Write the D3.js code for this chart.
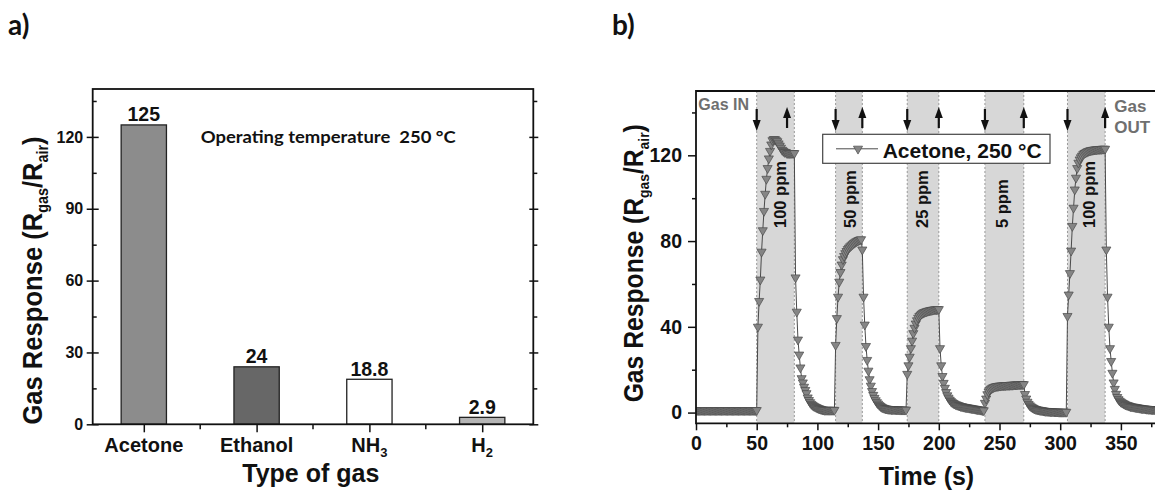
<!DOCTYPE html>
<html><head><meta charset="utf-8">
<script src="https://cdn.jsdelivr.net/npm/d3@7"></script>
<style>
html,body{margin:0;padding:0;background:#fff;}
svg{display:block;}
text{font-family:"Liberation Sans",Arial,Helvetica,sans-serif;font-weight:bold;fill:#111;}
</style></head><body>
<svg id="chart" width="1155" height="493"></svg>
<script>
// ---------------- DATA ----------------
// panel a
const gasCategories = ["Acetone", "Ethanol", "NH3", "H2"];
const gasLabelMain = ["Acetone", "Ethanol", "NH", "H"];
const gasLabelSub = ["", "", "3", "2"];
const gasResponse = [125, 24, 18.8, 2.9];
const gasResponseText = ["125", "24", "18.8", "2.9"];
const barYTicks = [0, 30, 60, 90, 120];
const barYMinorTicks = [15, 45, 75, 105, 135];

// panel b
const timeYTicks = [0, 40, 80, 120];
const timeYMinorTicks = [20, 60, 100, 140];
const timeXTicks = [0, 50, 100, 150, 200, 250, 300, 350];
const timeXMinorTicks = [25, 75, 125, 175, 225, 275, 325, 375];
const exposureStart = [50, 115, 174, 238, 306];
const exposureEnd = [81, 137, 200, 270, 337];
const gasOutArrowTimes = [75, 137, 200, 270, 337];
const concentrationLabels = ["100 ppm", "50 ppm", "25 ppm", "5 ppm", "100 ppm"];
const concentrationLabelTimes = [68.8, 126.9, 186.2, 251.8, 323.6];
// acetone response (Rgas/Rair), one value per second starting at t = 0 s
const acetoneResponse = [
  1.1,1.1,1.1,1.1,1.1,1.1,1.1,1.1,1.1,1.1,
  1.1,1.1,1.1,1.1,1.1,1.1,1.1,1.1,1.1,1.1,
  1.1,1.1,1.1,1.1,1.1,1.1,1.1,1.1,1.1,1.1,
  1.1,1.1,1.1,1.1,1.1,1.1,1.1,1.1,1.1,1.1,
  1.1,1.1,1.1,1.1,1.1,1.1,1.1,1.1,1.1,1.1,
  1.1,40,52,62,75,85,94,102,109,114,
  118.5,122,125,127,127.5,127.5,127,126.5,125.5,124.5,
  123.5,122.5,122,121.5,121.5,121,121,121,121,121,
  121,121,63,47,34,27,21,16,14,12,
  10.5,9,7,5.8,4.8,4,3.5,3.1,2.8,2.5,
  2.2,2.0,1.8,1.6,1.4,1.3,1.2,1.2,1.2,1.2,
  1.2,1.2,1.2,1.2,1.2,31.5,44,54,61,65.5,
  69,71.5,73,74.3,75.3,76.2,76.9,77.5,78,78.5,
  79,79.4,79.8,80.1,80.4,80.6,80.8,76,54,41,
  31,24.5,19.5,15.5,12.5,10,8.2,6.8,5.7,4.8,
  4.1,3.5,3.0,2.6,2.3,2.1,1.9,1.8,1.7,1.6,
  1.6,1.5,1.5,1.5,1.4,1.4,1.4,1.4,1.3,1.3,
  1.3,1.3,1.3,1.3,18,22,26,30,33.5,37,
  39.5,41.5,43,44.2,45,45.6,46.1,46.5,46.8,47,
  47.2,47.4,47.5,47.7,47.8,47.9,48,48.1,48.1,48.2,
  48.2,30,22,17,13.8,11.5,9.5,8,6.9,6,
  5.3,4.8,4.4,4.1,3.8,3.6,3.4,3.2,3.0,2.9,
  2.7,2.6,2.5,2.4,2.3,2.2,2.1,2.0,1.9,1.8,
  1.7,1.6,1.5,1.4,1.3,1.2,1.1,1.0,4.5,6.5,
  8.5,9.8,10.6,11.1,11.5,11.8,12,12.2,12.3,12.4,
  12.5,12.5,12.6,12.6,12.7,12.7,12.8,12.8,12.8,12.9,
  12.9,12.9,13,13,13,13.1,13.1,13.1,13.2,13.2,
  13.2,8.6,6.5,5,4,3.3,2.8,2.4,2.1,1.8,
  1.6,1.4,1.3,1.2,1.1,1.0,0.9,0.8,0.7,0.7,
  0.6,0.6,0.5,0.5,0.5,0.4,0.4,0.4,0.4,0.3,
  0.3,0.3,0.3,0.3,0.3,0.3,45,55,65,75.5,
  87,95.5,104,109.5,114,116.5,118,119,119.8,120.5,
  121,121.3,121.6,121.9,122.1,122.3,122.4,122.5,122.6,122.7,
  122.7,122.8,122.8,122.9,122.9,123,123,123,76,54,
  40,30,24,18.5,14,11,8.7,7.2,6.2,5.5,
  5,4.6,4.3,4,3.7,3.5,3.3,3.1,2.9,2.8,
  2.7,2.6,2.5,2.4,2.3,2.2,2.1,2,1.9,1.9,
  1.8,1.7,1.7,1.6,1.6,1.5,1.5,1.5,1.4,1.4,
  1.4,1.4,1.3,1.3,1.3,1.3
];
const responseSeries = acetoneResponse.map((v, i) => ({t: i, v: v}));

// ---------------- DRAW ----------------
const svg = d3.select("#chart");
const FONT = '"Liberation Sans",Arial,Helvetica,sans-serif';

function styleAxis(g, fs) {
  g.attr("font-size", null).attr("font-family", null);
  g.select(".domain").remove();
  g.selectAll(".tick line").attr("stroke", "#111").attr("stroke-width", 1.5);
  g.selectAll(".tick text").attr("font-size", fs).attr("fill", "#111")
    .style("font-family", FONT).style("font-weight", "bold");
}

// ===== panel a =====
const A = {L: 92.7, R: 533.3, T: 89, B: 424.3};
const xA = d3.scalePoint().domain(gasCategories).range([A.L, A.R]).padding(0.453);
const yA = d3.scaleLinear().domain([0, 140]).range([A.B, A.T]);
const barW = 45.3;
const barFill = ["#8c8c8c", "#676767", "#ffffff", "#b5b5b5"];
const gA = svg.append("g");

svg.append("text").attr("x", 8).attr("y", 35).attr("font-size", 28)
  .style("font-family", "Lato,'Open Sans',sans-serif").text("a)");

gA.selectAll("rect.bar").data(gasResponse).join("rect").attr("class", "bar")
  .attr("x", (d, i) => xA(gasCategories[i]) - barW / 2)
  .attr("y", d => yA(d))
  .attr("width", barW)
  .attr("height", d => yA(0) - yA(d))
  .attr("fill", (d, i) => barFill[i])
  .attr("stroke", "#222").attr("stroke-width", 1.3);

gA.selectAll("text.val").data(gasResponse).join("text").attr("class", "val")
  .attr("x", (d, i) => xA(gasCategories[i]))
  .attr("y", d => yA(d) - 3.5)
  .attr("text-anchor", "middle").attr("font-size", 19.5)
  .text((d, i) => gasResponseText[i]);

// frame
gA.append("rect").attr("x", A.L).attr("y", A.T).attr("width", A.R - A.L).attr("height", A.B - A.T)
  .attr("fill", "none").attr("stroke", "#111").attr("stroke-width", 1.8);

// y axis left
gA.append("g").attr("transform", `translate(${A.L},0)`)
  .call(d3.axisLeft(yA).tickValues(barYTicks).tickSize(6).tickPadding(3.5))
  .call(g => styleAxis(g, 16));
gA.append("g").attr("transform", `translate(${A.L},0)`)
  .call(d3.axisRight(yA).tickValues(barYTicks).tickSize(6).tickFormat(""))
  .call(g => styleAxis(g, 16));
gA.append("g").attr("transform", `translate(${A.L},0)`)
  .call(d3.axisRight(yA).tickValues(barYMinorTicks).tickSize(4).tickFormat(""))
  .call(g => styleAxis(g, 16));
// right side ticks
gA.append("g").attr("transform", `translate(${A.R},0)`)
  .call(d3.axisRight(yA).tickValues(barYTicks).tickSize(5).tickFormat(""))
  .call(g => styleAxis(g, 16));
gA.append("g").attr("transform", `translate(${A.R},0)`)
  .call(d3.axisLeft(yA).tickValues(barYTicks).tickSize(4).tickFormat(""))
  .call(g => styleAxis(g, 16));
gA.append("g").attr("transform", `translate(${A.R},0)`)
  .call(d3.axisRight(yA).tickValues(barYMinorTicks).tickSize(4).tickFormat(""))
  .call(g => styleAxis(g, 16));

// x axis ticks
gA.append("g").attr("transform", `translate(0,${A.B})`)
  .call(d3.axisBottom(xA).tickSize(8).tickFormat(""))
  .call(g => styleAxis(g, 16));
const step = xA.step();
const midCats = gasCategories.slice(0, -1);
gA.selectAll("line.minx").data(midCats).join("line").attr("class", "minx")
  .attr("x1", d => xA(d) + step / 2).attr("x2", d => xA(d) + step / 2)
  .attr("y1", A.B).attr("y2", A.B + 5)
  .attr("stroke", "#111").attr("stroke-width", 1.5);

// category labels
gasCategories.forEach((c, i) => {
  const t = gA.append("text").attr("x", xA(c)).attr("y", 451.7)
    .attr("text-anchor", "middle").attr("font-size", 20);
  t.append("tspan").text(gasLabelMain[i]);
  if (gasLabelSub[i]) t.append("tspan").attr("font-size", 13).attr("dy", 5).text(gasLabelSub[i]);
});

gA.append("text").attr("x", 310.8).attr("y", 481.7).attr("text-anchor", "middle")
  .attr("font-size", 25).text("Type of gas");

function yTitle(g, x, y, fs) {
  const t = g.append("text").attr("transform", `translate(${x},${y}) rotate(-90) scale(1,1.1)`)
    .attr("text-anchor", "middle").attr("font-size", fs);
  t.append("tspan").text("Gas Response (R");
  t.append("tspan").attr("font-size", fs * 0.56).attr("dy", fs * 0.22).text("gas");
  t.append("tspan").attr("dy", -fs * 0.22).text("/R");
  t.append("tspan").attr("font-size", fs * 0.56).attr("dy", fs * 0.22).text("air");
  t.append("tspan").attr("dy", -fs * 0.22).text(")");
}
yTitle(gA, 41.7, 280.5, 25.6);

gA.append("text").attr("x", 200.7).attr("y", 142.7).attr("font-size", 17)
  .attr("textLength", 255).attr("lengthAdjust", "spacingAndGlyphs")
  .style("font-family", "Lato,'Open Sans',sans-serif")
  .text("Operating temperature\u00A0 250 \u00B0C");

// ===== panel b =====
const B = {L: 696, R: 1181.6, T: 91, B: 423.3};
const xB = d3.scaleLinear().domain([0, 400]).range([B.L, B.R]);
const yB = d3.scaleLinear().domain([-5, 150]).range([B.B, B.T]);
const gB = svg.append("g");

svg.append("text").attr("x", 612).attr("y", 35).attr("font-size", 28)
  .style("font-family", "Lato,'Open Sans',sans-serif").text("b)");

svg.append("defs").append("clipPath").attr("id", "clipB")
  .append("rect").attr("x", B.L).attr("y", B.T).attr("width", B.R - B.L).attr("height", B.B - B.T);

const plotB = gB.append("g").attr("clip-path", "url(#clipB)");
// shaded exposure windows
plotB.selectAll("rect.win").data(exposureStart).join("rect").attr("class", "win")
  .attr("x", (d, i) => xB(d))
  .attr("y", B.T)
  .attr("width", (d, i) => xB(exposureEnd[i]) - xB(d))
  .attr("height", B.B - B.T)
  .attr("fill", "#d7d7d7");
const edges = exposureStart.concat(exposureEnd);
plotB.selectAll("line.edge").data(edges).join("line").attr("class", "edge")
  .attr("x1", d => xB(d)).attr("x2", d => xB(d))
  .attr("y1", B.T).attr("y2", B.B)
  .attr("stroke", "#9a9a9a").attr("stroke-width", 1).attr("stroke-dasharray", "2,2");

// frame
gB.append("path")
  .attr("d", `M${B.R},${B.T}H${B.L}V${B.B}H${B.R}`)
  .attr("fill", "none").attr("stroke", "#111").attr("stroke-width", 1.8);

// axes
gB.append("g").attr("transform", `translate(${B.L},0)`)
  .call(d3.axisLeft(yB).tickValues(timeYTicks).tickSize(8).tickPadding(6))
  .call(g => styleAxis(g, 19.5));
gB.append("g").attr("transform", `translate(${B.L},0)`)
  .call(d3.axisLeft(yB).tickValues(timeYMinorTicks).tickSize(4).tickFormat(""))
  .call(g => styleAxis(g, 19));
gB.append("g").attr("transform", `translate(0,${B.B})`)
  .call(d3.axisBottom(xB).tickValues(timeXTicks).tickSize(7).tickPadding(5.5).tickFormat(d3.format("d")))
  .call(g => styleAxis(g, 19.5));
gB.append("g").attr("transform", `translate(0,${B.B})`)
  .call(d3.axisBottom(xB).tickValues(timeXMinorTicks).tickSize(4).tickFormat(""))
  .call(g => styleAxis(g, 19));

// data line + markers
const line = d3.line().x(d => xB(d.t)).y(d => yB(d.v));
plotB.append("path").datum(responseSeries).attr("d", line)
  .attr("fill", "none").attr("stroke", "#4a4a4a").attr("stroke-width", 1);
const tri = d3.symbol().type(d3.symbolTriangle).size(36);
plotB.selectAll("path.mk").data(responseSeries).join("path").attr("class", "mk")
  .attr("d", tri)
  .attr("transform", d => `translate(${xB(d.t)},${yB(d.v)}) rotate(180)`)
  .attr("fill", "#858585").attr("stroke", "#4a4a4a").attr("stroke-width", 0.7);

// arrows
const arrowsDown = gB.selectAll("g.adown").data(exposureStart).join("g").attr("class", "adown")
  .attr("transform", d => `translate(${xB(d)},0)`);
arrowsDown.append("line").attr("x1", 0).attr("x2", 0).attr("y1", 109).attr("y2", 122)
  .attr("stroke", "#111").attr("stroke-width", 2.2);
arrowsDown.append("path").attr("d", "M-4,120L4,120L0,131Z").attr("fill", "#111");
const arrowsUp = gB.selectAll("g.aup").data(gasOutArrowTimes).join("g").attr("class", "aup")
  .attr("transform", d => `translate(${xB(d)},0)`);
arrowsUp.append("line").attr("x1", 0).attr("x2", 0).attr("y1", 116).attr("y2", 128)
  .attr("stroke", "#111").attr("stroke-width", 2.2);
arrowsUp.append("path").attr("d", "M-4,118L4,118L0,107Z").attr("fill", "#111");

// gas in / out text
gB.append("text").attr("x", 698.3).attr("y", 110).attr("font-size", 16)
  .style("fill", "#6f6f6f").text("Gas IN");
gB.append("text").attr("x", 1114.3).attr("y", 111.7).attr("font-size", 17)
  .style("fill", "#6f6f6f").text("Gas");
gB.append("text").attr("x", 1114.3).attr("y", 133.3).attr("font-size", 17)
  .style("fill", "#6f6f6f").text("OUT");

// concentration labels
gB.selectAll("text.ppm").data(concentrationLabels).join("text").attr("class", "ppm")
  .attr("transform", (d, i) => `translate(${xB(concentrationLabelTimes[i]) + 6},228) rotate(-90)`)
  .attr("text-anchor", "start").attr("font-size", 16.5)
  .text(d => d);

// legend
const leg = gB.append("g");
leg.append("rect").attr("x", 822.7).attr("y", 134.3).attr("width", 227.3).attr("height", 29)
  .attr("fill", "#fff").attr("stroke", "#444").attr("stroke-width", 1.2);
leg.append("line").attr("x1", 836).attr("x2", 878).attr("y1", 148.8).attr("y2", 148.8)
  .attr("stroke", "#4a4a4a").attr("stroke-width", 1);
leg.append("path").attr("d", tri).attr("transform", "translate(858,148.8) rotate(180)")
  .attr("fill", "#858585").attr("stroke", "#4a4a4a").attr("stroke-width", 0.7);
leg.append("text").attr("x", 882.7).attr("y", 158.3).attr("font-size", 21)
  .text("Acetone, 250 \u00B0C");

// titles
yTitle(gB, 643.3, 263.3, 24.7);
gB.append("text").attr("x", 926.5).attr("y", 485).attr("text-anchor", "middle")
  .attr("font-size", 25).text("Time (s)");
</script>
</body></html>
